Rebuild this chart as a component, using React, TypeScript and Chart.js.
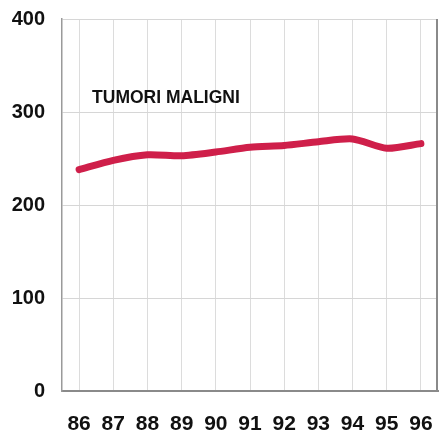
import React, { useEffect, useRef } from "react";
import { Chart, registerables } from "chart.js";

Chart.register(...registerables);

const years = ["86", "87", "88", "89", "90", "91", "92", "93", "94", "95", "96"];
const tumori = [238, 248, 254, 253, 257, 262, 264, 268, 271, 261, 266];
const yTicks = [0, 100, 200, 300, 400];
const seriesLabel = "TUMORI MALIGNI";

const FONT = "'Liberation Sans', Arial, sans-serif";

const framePlugin = {
  id: "frameAndLabel",
  afterDatasetsDraw(chart: any) {
    const { ctx, chartArea, scales } = chart;
    ctx.save();
    ctx.strokeStyle = "#8a8a8a";
    ctx.lineWidth = 2;
    ctx.beginPath();
    ctx.moveTo(chartArea.right - 1, chartArea.top);
    ctx.lineTo(chartArea.right - 1, chartArea.bottom);
    ctx.stroke();
    const x0 = scales.x.getPixelForValue(0);
    const x1 = scales.x.getPixelForValue(1);
    const tx = x0 + (x1 - x0) * 0.38;
    const ty = scales.y.getPixelForValue(315);
    ctx.fillStyle = "#111";
    ctx.font = `bold 17.5px ${FONT}`;
    ctx.textBaseline = "middle";
    ctx.textAlign = "left";
    ctx.fillText(seriesLabel, tx, ty);
    ctx.restore();
  },
};

export default function App() {
  const ref = useRef<HTMLCanvasElement>(null);
  useEffect(() => {
    document.body.style.margin = "0";
    const chart = new Chart(ref.current!, {
      type: "line",
      data: {
        labels: years,
        datasets: [
          {
            label: seriesLabel,
            data: tumori,
            borderColor: "#cf1f4a",
            borderWidth: 7,
            pointRadius: 0,
            tension: 0.25,
            borderCapStyle: "round",
            borderJoinStyle: "round",
          },
        ],
      },
      options: {
        animation: false,
        responsive: false,
        layout: { padding: { top: 19, right: 2, left: 0, bottom: 0 } },
        plugins: { legend: { display: false }, tooltip: { enabled: false } },
        scales: {
          x: {
            offset: true,
            grid: { color: "#dcdcdc", lineWidth: 1, drawTicks: false },
            border: { color: "#8a8a8a", width: 2 },
            ticks: { color: "#111", font: { family: FONT, size: 21, weight: "bold" }, padding: 21 },
            afterFit(scale: any) {
              scale.height = 43;
              scale.paddingLeft = 0;
              scale.paddingRight = 0;
            },
          },
          y: {
            min: 0,
            max: 400,
            afterBuildTicks(scale: any) {
              scale.ticks = yTicks.map((v) => ({ value: v }));
            },
            grid: { color: "#d6d6d6", lineWidth: 1, drawTicks: false },
            border: { color: "#9a9a9a", width: 1.5 },
            ticks: { color: "#111", font: { family: FONT, size: 20, weight: "bold" }, padding: 17 },
            afterFit(scale: any) {
              scale.width = 62;
              scale.paddingTop = 0;
              scale.paddingBottom = 0;
            },
          },
        },
      },
      plugins: [framePlugin],
    });
    return () => chart.destroy();
  }, []);
  return <canvas ref={ref} width={440} height={434} style={{ display: "block" }} />;
}
